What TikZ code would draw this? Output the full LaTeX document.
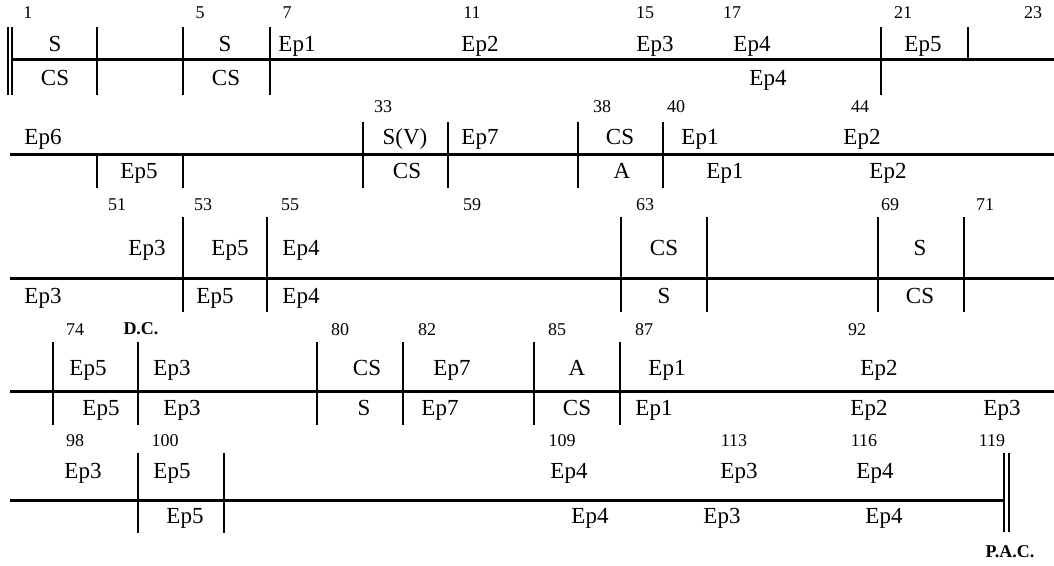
\documentclass[tikz,border=0pt]{standalone}
\usepackage{fontspec}
\setmainfont{Liberation Serif}

\begin{document}
\begin{tikzpicture}[x=0.5pt,y=-0.5pt,
  staff/.style={line width=1.5pt},
  barline/.style={line width=1.4pt},
  dblbar/.style={line width=0.7pt},
  voice/.style={inner sep=0pt,text height=1.6ex,text depth=.3ex,font=\fontsize{11.5}{13}\selectfont},
  measure/.style={inner sep=0pt,font=\small},
  cadence/.style={inner sep=0pt,font=\small\bfseries}]

  \useasboundingbox (0,0) rectangle (1054,566);

  % row 1
  \draw[staff] (12,60) -- (1054,60);
  \draw[dblbar] (8,27) -- (8,95) (12,27) -- (12,95);
  \foreach \x in {97,183,270,881} \draw[barline] (\x,27) -- (\x,95);
  \draw[barline] (968,27) -- (968,60);
  \foreach \x/\n [count=\i] in {28/1,200/5,287/7,472/11,645/15,732/17,903/21,1033/23}
    \node[measure] (m1-\i) at (\x,13) {\n};
  \foreach \x/\t [count=\i] in {55/S,225/S,297/Ep1,480/Ep2,655/Ep3,752/Ep4,923/Ep5}
    \node[voice] (up1-\i) at (\x,46) {\t};
  \foreach \x/\t [count=\i] in {55/CS,226/CS,768/Ep4}
    \node[voice] (lo1-\i) at (\x,80) {\t};

  % row 2
  \draw[staff] (10,155) -- (1054,155);
  \foreach \x in {97,183} \draw[barline] (\x,155) -- (\x,188);
  \foreach \x in {363,448,578,663} \draw[barline] (\x,122) -- (\x,188);
  \foreach \x/\n [count=\i] in {383/33,602/38,676/40,860/44}
    \node[measure] (m2-\i) at (\x,107) {\n};
  \foreach \x/\t [count=\i] in {43/Ep6,405/S(V),480/Ep7,620/CS,700/Ep1,862/Ep2}
    \node[voice] (up2-\i) at (\x,139) {\t};
  \foreach \x/\t [count=\i] in {139/Ep5,407/CS,622/A,725/Ep1,888/Ep2}
    \node[voice] (lo2-\i) at (\x,173) {\t};

  % row 3
  \draw[staff] (10,279) -- (1054,279);
  \foreach \x in {183,267,621,707,878,964} \draw[barline] (\x,217) -- (\x,312);
  \foreach \x/\n [count=\i] in {117/51,203/53,290/55,472/59,645/63,890/69,985/71}
    \node[measure] (m3-\i) at (\x,205) {\n};
  \foreach \x/\t [count=\i] in {147/Ep3,230/Ep5,301/Ep4,664/CS,920/S}
    \node[voice] (up3-\i) at (\x,250) {\t};
  \foreach \x/\t [count=\i] in {43/Ep3,215/Ep5,301/Ep4,664/S,920/CS}
    \node[voice] (lo3-\i) at (\x,298) {\t};

  % row 4
  \draw[staff] (10,392) -- (1054,392);
  \foreach \x in {53,138,317,403,534,620} \draw[barline] (\x,342) -- (\x,425);
  \foreach \x/\n [count=\i] in {75/74,340/80,427/82,557/85,644/87,857/92}
    \node[measure] (m4-\i) at (\x,330) {\n};
  \node[cadence] (dc) at (141,329) {D.C.};
  \foreach \x/\t [count=\i] in {88/Ep5,172/Ep3,367/CS,452/Ep7,577/A,667/Ep1,879/Ep2}
    \node[voice] (up4-\i) at (\x,370) {\t};
  \foreach \x/\t [count=\i] in {101/Ep5,182/Ep3,364/S,440/Ep7,577/CS,654/Ep1,869/Ep2,1002/Ep3}
    \node[voice] (lo4-\i) at (\x,410) {\t};

  % row 5
  \draw[staff] (10,500) -- (1004,500);
  \foreach \x in {138,224} \draw[barline] (\x,453) -- (\x,533);
  \draw[dblbar,line width=1pt] (1004,453) -- (1004,532) (1009,453) -- (1009,532);
  \foreach \x/\n [count=\i] in {75/98,165/100,562/109,734/113,864/116,992/119}
    \node[measure] (m5-\i) at (\x,441) {\n};
  \foreach \x/\t [count=\i] in {83/Ep3,172/Ep5,569/Ep4,739/Ep3,875/Ep4}
    \node[voice] (up5-\i) at (\x,473) {\t};
  \foreach \x/\t [count=\i] in {185/Ep5,590/Ep4,722/Ep3,884/Ep4}
    \node[voice] (lo5-\i) at (\x,518) {\t};
  \node[cadence] (pac) at (1010,552) {P.A.C.};
\end{tikzpicture}
\end{document}
